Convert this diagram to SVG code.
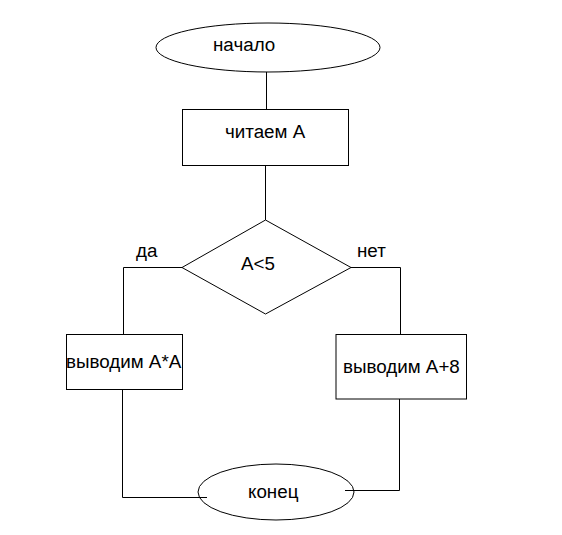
<svg xmlns="http://www.w3.org/2000/svg" width="562" height="535" viewBox="0 0 562 535">
<style>
.s{fill:#fff;stroke:#000;stroke-width:1}
.c{fill:none;stroke:#000;stroke-width:1}
text{font-family:"Liberation Sans",Arial,sans-serif;font-size:18.8px;fill:#000}
</style>
<rect width="562" height="535" fill="#fff"/>
<g id="connectors">
<path class="c" d="M266.5 72 V109"/>
<path class="c" d="M265.5 166 V220"/>
<path class="c" d="M182 267.5 H123.5 V334"/>
<path class="c" d="M351 267.5 H400.5 V334"/>
<path class="c" d="M122.5 390 V497.5 H207"/>
<path class="c" d="M399.5 399 V490.5 H345"/>
</g>
<g id="start"><ellipse class="s" cx="268" cy="47.5" rx="112" ry="24.5"/><text x="213" y="51">начало</text></g>
<g id="read"><rect class="s" x="182.5" y="109.5" width="166" height="56"/><text x="225" y="138">читаем А</text></g>
<g id="cond"><polygon class="s" points="265.5,220 351,267.5 265.5,314 182,267.5"/><text x="241" y="270">А&lt;5</text></g>
<g id="yes"><text x="136" y="257">да</text></g>
<g id="no"><text x="357" y="257">нет</text></g>
<g id="outA"><rect class="s" x="66.5" y="334.5" width="116" height="55"/><text x="66" y="368">выводим А*А</text></g>
<g id="outB"><rect class="s" x="336" y="334.5" width="130.5" height="64.5"/><text x="343" y="373">выводим А+8</text></g>
<g id="end"><ellipse class="s" cx="276" cy="492" rx="78" ry="28" style="fill:none"/><text x="248" y="498">конец</text></g>
</svg>
